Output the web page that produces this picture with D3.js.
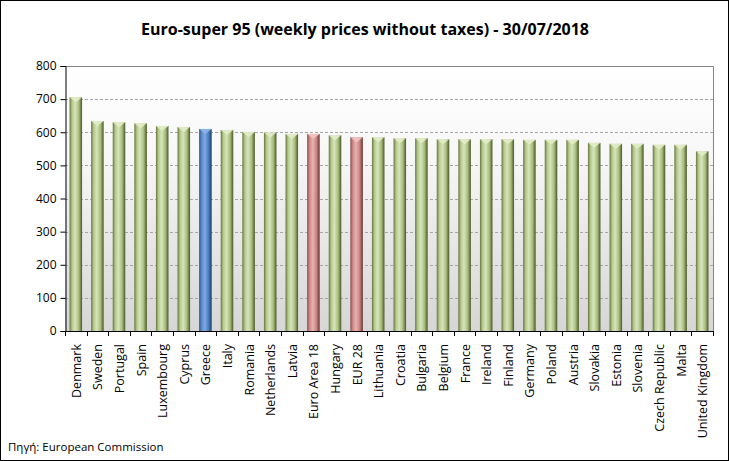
<!DOCTYPE html>
<html><head><meta charset="utf-8">
<script src="https://cdn.jsdelivr.net/npm/d3@7"></script>
<style>body{margin:0;background:#fff}svg{display:block}</style>
</head><body>
<svg id="c" width="729" height="461"></svg>
<script>
const countries = ["Denmark","Sweden","Portugal","Spain","Luxembourg","Cyprus","Greece","Italy","Romania","Netherlands","Latvia","Euro Area 18","Hungary","EUR 28","Lithuania","Croatia","Bulgaria","Belgium","France","Ireland","Finland","Germany","Poland","Austria","Slovakia","Estonia","Slovenia","Czech Republic","Malta","United Kingdom"];
const prices = [706,634,630,627,619,616,610,607,601,599,595,595,591,585,585,582,582,579,579,579,579,577,577,577,568,565,565,562,562,543];
const barGroup = ["eu","eu","eu","eu","eu","eu","gr","eu","eu","eu","eu","avg","eu","avg","eu","eu","eu","eu","eu","eu","eu","eu","eu","eu","eu","eu","eu","eu","eu","eu"];
const yTicks = [0,100,200,300,400,500,600,700,800];
const title = "Euro-super 95 (weekly prices without taxes) - 30/07/2018";
const source = "Πηγή: European Commission";

const svg = d3.select("#c");
const W=729,H=461;
const m={l:65,r:713,t:66,b:331};
const font="'Open Sans', sans-serif";

const defs=svg.append("defs");
const bg=defs.append("linearGradient").attr("id","bg").attr("x1",0).attr("x2",0).attr("y1",0).attr("y2",1);
bg.append("stop").attr("offset","0%").attr("stop-color","#ffffff");
bg.append("stop").attr("offset","35%").attr("stop-color","#f7f7f7");
bg.append("stop").attr("offset","100%").attr("stop-color","#d6d6d6");

const pal={eu:["#65763c","#b5c98c","#d7e4bd","#a9bd7a","#48572a"],
           gr:["#2a5589","#5a8ccc","#7fa9e3","#4a7dc0","#1d3b60"],
           avg:["#8a4a48","#d08a88","#e6b3b1","#c98280","#653230"]};
const capc={eu:"#e2edc9",gr:"#8db4ea",avg:"#efc4c2"};
Object.entries(pal).forEach(([k,c])=>{
  const g=defs.append("linearGradient").attr("id","g_"+k).attr("x1",0).attr("x2",1).attr("y1",0).attr("y2",0);
  [0,20,45,75,100].forEach((o,i)=>g.append("stop").attr("offset",o+"%").attr("stop-color",c[i]));
});

svg.append("rect").attr("x",0.5).attr("y",0.5).attr("width",W-1).attr("height",H-1).attr("fill","#fff").attr("stroke","#000");

const x=d3.scaleBand().domain(countries).range([m.l,m.r]).paddingInner(0.42).paddingOuter(0.21);
const y=d3.scaleLinear().domain([0,800]).range([m.b,m.t]);

svg.append("rect").attr("x",m.l).attr("y",m.t).attr("width",m.r-m.l).attr("height",m.b-m.t).attr("fill","url(#bg)");

svg.append("g").selectAll("line").data(yTicks.filter(v=>v>0&&v<800)).join("line")
  .attr("x1",m.l).attr("x2",m.r).attr("y1",d=>Math.round(y(d))+0.5).attr("y2",d=>Math.round(y(d))+0.5)
  .attr("stroke","#a6a6a6").attr("stroke-dasharray","3,2");
svg.append("path").attr("d",`M${m.l},${m.t+0.5}H${m.r+0.5}V${m.b}`).attr("fill","none").attr("stroke","#868686");

const bars=svg.append("g");
countries.forEach((c,i)=>{
  const k=barGroup[i], x0=x(c), w=x.bandwidth(), yt=y(prices[i]);
  bars.append("rect").attr("x",x0).attr("y",yt).attr("width",w).attr("height",m.b-yt).attr("fill",`url(#g_${k})`);
  bars.append("path").attr("d",`M${x0},${yt}L${x0+w},${yt}L${x0+w/2},${yt+5}Z`).attr("fill",capc[k]).attr("opacity",0.9);
});

const ya=svg.append("g").attr("transform",`translate(${m.l+0.5},0)`)
  .call(d3.axisLeft(y).tickValues(yTicks).tickSize(5).tickPadding(4));
ya.select(".domain").attr("stroke","#000");
ya.selectAll("line").attr("stroke","#000");
ya.selectAll("text").attr("font-family",font).attr("font-size",12).attr("fill","#000");

const bounds=countries.map(c=>x(c)-x.step()*x.paddingInner()/2).concat([m.r]);
const xa=svg.append("g");
xa.append("line").attr("x1",m.l).attr("x2",m.r+0.5).attr("y1",m.b+0.5).attr("y2",m.b+0.5).attr("stroke","#000");
xa.selectAll("line.t").data(bounds).join("line").attr("class","t")
  .attr("x1",d=>Math.round(d)+0.5).attr("x2",d=>Math.round(d)+0.5).attr("y1",m.b).attr("y2",m.b+5).attr("stroke","#000");
xa.selectAll("text").data(countries).join("text")
  .attr("transform",d=>`translate(${x(d)+x.bandwidth()/2+5},${m.b+13}) rotate(-90)`)
  .attr("text-anchor","end").attr("font-family",font).attr("font-size",12.5).attr("fill","#000").text(d=>d);

svg.append("text").attr("x",365).attr("y",35).attr("text-anchor","middle").attr("font-family",font)
  .attr("font-weight","bold").attr("font-size",16).attr("fill","#000").text(title);
svg.append("text").attr("x",8).attr("y",451).attr("font-family",font).attr("font-size",11.5).attr("fill","#000").text(source);
</script>
</body></html>
